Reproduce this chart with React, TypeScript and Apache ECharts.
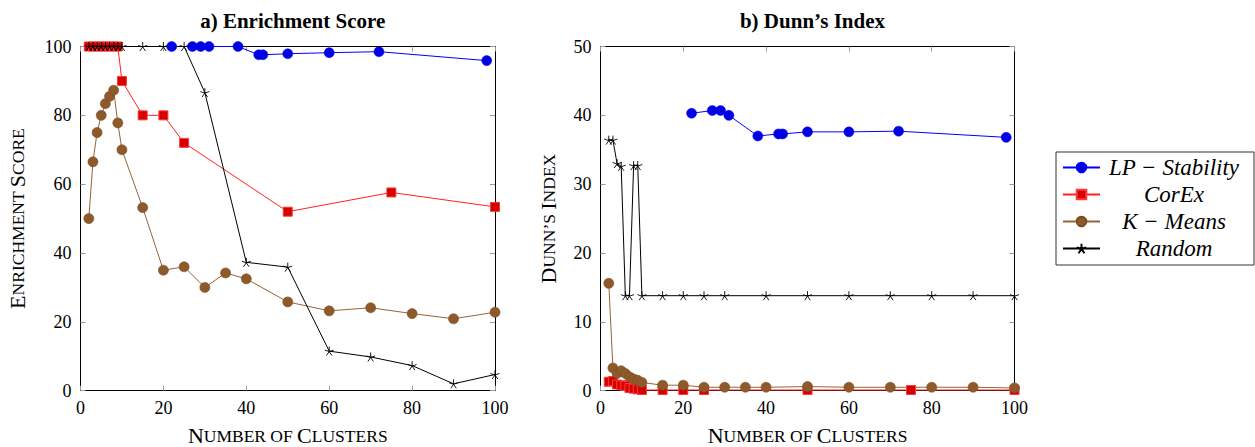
import React, { useEffect, useRef } from "react";
import * as echarts from "echarts";

// ---------- data ----------
const lpX = [22, 27, 29, 31, 38, 43, 44, 50, 60, 72, 98];
const corexX = [2, 3, 4, 5, 6, 7, 8, 9, 10, 15, 20, 25, 50, 75, 100];
const kmX = [2, 3, 4, 5, 6, 7, 8, 9, 10, 15, 20, 25, 30, 35, 40, 50, 60, 70, 80, 90, 100];
const randX = [2, 3, 4, 5, 6, 7, 8, 9, 10, 15, 20, 25, 30, 40, 50, 60, 70, 80, 90, 100];

// a) Enrichment Score
const lpES = [100, 100, 100, 100, 100, 97.6, 97.6, 97.9, 98.2, 98.5, 95.9];
const corexES = [100, 100, 100, 100, 100, 100, 100, 100, 90, 80, 80, 72, 52, 57.6, 53.4];
const kmES = [50, 66.5, 75, 80, 83.4, 85.5, 87.3, 77.8, 70, 53.2, 35, 36, 30, 34.2, 32.5, 25.8, 23.2, 24.1, 22.4, 20.9, 22.8];
const randES = [100, 100, 100, 100, 100, 100, 100, 100, 100, 100, 100, 100, 86.6, 37.3, 35.9, 11.5, 9.8, 7.3, 2.0, 4.7];

// b) Dunn's Index
const lpDI = [40.3, 40.7, 40.7, 40.0, 37.0, 37.3, 37.3, 37.6, 37.6, 37.7, 36.8];
const corexDI = [1.3, 1.4, 0.9, 0.8, 0.7, 0.4, 0.3, 0.2, 0.1, 0.1, 0.1, 0.1, 0.1, 0.1, 0.1];
const kmDI = [15.6, 3.3, 2.5, 2.9, 2.5, 2.0, 1.7, 1.5, 1.2, 0.8, 0.8, 0.5, 0.5, 0.5, 0.5, 0.6, 0.5, 0.5, 0.5, 0.5, 0.4];
const randDI = [36.4, 36.4, 33.0, 32.6, 13.8, 13.8, 32.7, 32.7, 13.8, 13.8, 13.8, 13.8, 13.8, 13.8, 13.8, 13.8, 13.8, 13.8, 13.8, 13.8];

const names = ["LP − Stability", "CorEx", "K − Means", "Random"];
const xTicks = { min: 0, max: 100, interval: 20 };
const yTicksES = { min: 0, max: 100, interval: 20 };
const yTicksDI = { min: 0, max: 50, interval: 10 };

const FONT = "Liberation Serif";
const STAR = "path://M0,-10L0,0M9.51,-3.09L0,0M5.88,8.09L0,0M-5.88,8.09L0,0M-9.51,-3.09L0,0";
const CROSS = "path://M-1,-1L1,1M1,-1L-1,1";

const pair = (xs: number[], ys: number[]) => xs.map((x, i) => [x, ys[i]]);

function seriesFor(idx: number, lp: number[], corex: number[], km: number[], rand: number[]) {
  const base = { type: "line", xAxisIndex: idx, yAxisIndex: idx, clip: false, showSymbol: true };
  return [
    {
      ...base, name: names[0], data: pair(lpX, lp), symbol: "circle", symbolSize: 10,
      lineStyle: { color: "#0000ff", width: 1 },
      itemStyle: { color: "#0000e0", borderColor: "#0000ff", borderWidth: 0.5 },
    },
    {
      ...base, name: names[1], data: pair(corexX, corex), symbol: "rect", symbolSize: 9,
      lineStyle: { color: "#ff2020", width: 1 },
      itemStyle: { color: "#d40000", borderColor: "#ff3a3a", borderWidth: 1 },
    },
    {
      ...base, name: names[2], data: pair(kmX, km), symbol: "circle", symbolSize: 10,
      lineStyle: { color: "#966537", width: 1 },
      itemStyle: { color: "#8e5a2b", borderColor: "#7a4b22", borderWidth: 0.6 },
    },
    {
      type: "scatter", xAxisIndex: idx, yAxisIndex: idx, clip: false, silent: true,
      data: pair(kmX, km), symbol: CROSS, symbolSize: 7,
      itemStyle: { color: "transparent", borderColor: "#5c3814", borderWidth: 0.8 },
    },
    {
      ...base, name: names[3], data: pair(randX, rand), symbol: STAR, symbolSize: 9,
      lineStyle: { color: "#000", width: 1 },
      itemStyle: { color: "transparent", borderColor: "#000", borderWidth: 0.9 },
    },
  ];
}

const rich = {
  a: { fontFamily: FONT, fontSize: 22, lineHeight: 20, color: "#000" },
  b: { fontFamily: FONT, fontSize: 17.5, lineHeight: 20, color: "#000" },
};

function mainX(grid: number) {
  return {
    type: "value", gridIndex: grid, ...xTicks, position: "bottom",
    name: "{a|N}{b|UMBER OF }{a|C}{b|LUSTERS}", nameLocation: "middle", nameGap: 35,
    nameTextStyle: { rich },
    axisLine: { show: true, onZero: false, lineStyle: { color: "#000", width: 1 } },
    axisTick: { show: true, inside: true, length: 5, lineStyle: { color: "#999" } },
    axisLabel: { color: "#000", fontFamily: FONT, fontSize: 18, margin: 8 },
    splitLine: { show: false },
  };
}
function mirrorX(grid: number) {
  return {
    type: "value", gridIndex: grid, ...xTicks, position: "top",
    axisLine: { show: true, onZero: false, lineStyle: { color: "#000", width: 1 } },
    axisTick: { show: true, inside: true, length: 5, lineStyle: { color: "#999" } },
    axisLabel: { show: false }, splitLine: { show: false },
  };
}
function mainY(grid: number, ticks: any, name: string, gap: number) {
  return {
    type: "value", gridIndex: grid, ...ticks, position: "left",
    name, nameLocation: "middle", nameGap: gap, nameRotate: 90,
    nameTextStyle: { rich },
    axisLine: { show: true, onZero: false, lineStyle: { color: "#000", width: 1 } },
    axisTick: { show: true, inside: true, length: 5, lineStyle: { color: "#999" } },
    axisLabel: { color: "#000", fontFamily: FONT, fontSize: 18, margin: 9 },
    splitLine: { show: false },
  };
}
function mirrorY(grid: number, ticks: any) {
  return {
    type: "value", gridIndex: grid, ...ticks, position: "right",
    axisLine: { show: true, onZero: false, lineStyle: { color: "#000", width: 1 } },
    axisTick: { show: true, inside: true, length: 5, lineStyle: { color: "#999" } },
    axisLabel: { show: false }, splitLine: { show: false },
  };
}

export default function App() {
  const ref = useRef<HTMLDivElement>(null);
  useEffect(() => {
    if (!ref.current) return;
    const chart = echarts.init(ref.current, undefined, { renderer: "svg" });
    chart.setOption({
      animation: false,
      backgroundColor: "#fff",
      title: [
        {
          text: "a) Enrichment Score", left: 287.7, top: 5, textAlign: "center",
          textStyle: { fontFamily: FONT, fontWeight: "bold", fontSize: 21, color: "#000" },
        },
        {
          text: "b) Dunn’s Index", left: 807.5, top: 5, textAlign: "center",
          textStyle: { fontFamily: FONT, fontWeight: "bold", fontSize: 21, color: "#000" },
        },
      ],
      grid: [
        { left: 80.5, width: 414.5, top: 46.5, height: 344.2, containLabel: false, outerBoundsMode: "none" },
        { left: 600.5, width: 414, top: 46.5, height: 344.2, containLabel: false, outerBoundsMode: "none" },
      ],
      xAxis: [mainX(0), mainX(1), mirrorX(0), mirrorX(1)],
      yAxis: [
        mainY(0, yTicksES, "{a|E}{b|NRICHMENT }{a|S}{b|CORE}", 53),
        mainY(1, yTicksDI, "{a|D}{b|UNN’S }{a|I}{b|NDEX}", 42),
        mirrorY(0, yTicksES),
        mirrorY(1, yTicksDI),
      ],
      legend: {
        data: names,
        orient: "vertical",
        left: 1056,
        top: 152,
        itemWidth: 37,
        itemHeight: 12,
        itemGap: 4,
        padding: [4, 11, 5, 6],
        borderColor: "#333",
        borderWidth: 1,
        selectedMode: false,
        formatter: (n: string) => `{t|${n}}`,
        textStyle: {
          fontFamily: FONT,
          fontStyle: "italic",
          fontSize: 23,
          rich: {
            t: { width: 138, align: "center", fontFamily: FONT, fontStyle: "italic", fontSize: 23, lineHeight: 22.5, color: "#000" },
          },
        },
      },
      series: [
        ...seriesFor(0, lpES, corexES, kmES, randES),
        ...seriesFor(1, lpDI, corexDI, kmDI, randDI),
      ],
    });
    return () => chart.dispose();
  }, []);
  return <div ref={ref} style={{ position: "fixed", left: 0, top: 0, width: 1255, height: 447 }} />;
}
